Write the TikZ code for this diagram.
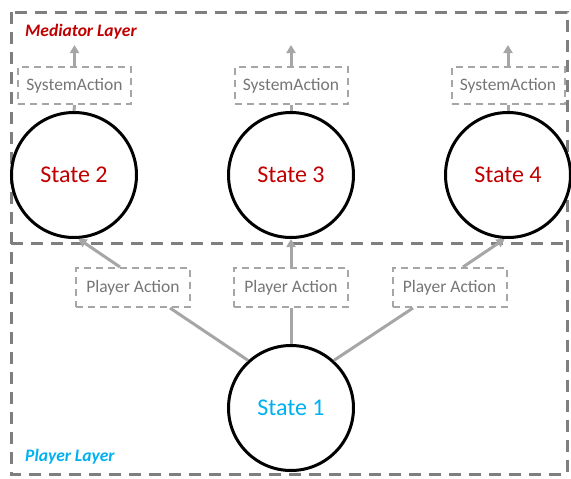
\documentclass[tikz,border=0pt]{standalone}
\usepackage{fontspec}
\setmainfont{Carlito}
\usetikzlibrary{arrows.meta,calc}
\definecolor{layergray}{HTML}{7F7F7F}
\definecolor{boxgray}{HTML}{A6A6A6}
\definecolor{textgray}{HTML}{767676}
\definecolor{medred}{HTML}{C00000}
\definecolor{playblue}{HTML}{00B0F0}
\begin{document}
\begin{tikzpicture}[x=1pt,y=-1pt,
  layerbox/.style={draw=layergray,line width=3pt,dash pattern=on 12pt off 8pt},
  layerlabel/.style={anchor=west,font=\fontsize{17.5}{20}\selectfont\bfseries\itshape,inner sep=0pt},
  statenode/.style={circle,draw=black,line width=3pt,fill=white,minimum size=125pt,inner sep=0pt,
    font=\fontsize{24}{28}\selectfont},
  actionbox/.style={draw=boxgray,line width=2pt,dash pattern=on 7pt off 5pt,fill=white,
    text=textgray,font=\fontsize{17.5}{20}\selectfont,inner sep=0pt},
  sysbox/.style={actionbox,minimum width=113pt,minimum height=37pt},
  plbox/.style={actionbox,minimum width=114pt,minimum height=39pt},
  link/.style={draw=boxgray,line width=3pt},
  arrowlink/.style={link,-{Triangle[length=8pt,width=9pt]}}
]
\useasboundingbox (0,0) rectangle (571,479);

% layer frame and the divider between the two layers
\draw[layerbox] (11,12) rectangle (567,474);
\draw[layerbox] (11,243) -- (567,243);
\node[layerlabel,text=medred] (medlabel) at (25,32) {Mediator Layer};
\node[layerlabel,text=playblue] (playlabel) at (25,457) {Player Layer};

% states
\node[statenode,text=medred] (s2) at (74,175) {State 2};
\node[statenode,text=medred] (s3) at (291,175) {State 3};
\node[statenode,text=medred] (s4) at (508,175) {State 4};
\node[statenode,text=playblue] (s1) at (291,408) {State 1};

% system actions
\node[sysbox] (sa2) at (74.5,85.5) {SystemAction};
\node[sysbox] (sa3) at (291,85.5) {SystemAction};
\node[sysbox] (sa4) at (508,85.5) {SystemAction};
\coordinate (out2) at (74.5,45);
\coordinate (out3) at (291,45);
\coordinate (out4) at (508,45);

% player actions
\node[plbox] (pa1) at (133,287.5) {Player Action};
\node[plbox] (pa2) at (291,287.5) {Player Action};
\node[plbox] (pa3) at (449.5,287.5) {Player Action};

% mediator outputs
\foreach \n in {2,3,4}{
  \draw[link] (s\n.north) -- (sa\n.south);
  \draw[arrowlink] (sa\n.north) -- (out\n);
}

% player moves
\draw[link] (s1.132) -- ($(pa1.south)+(37,0)$);
\draw[arrowlink] ($(pa1.north)+(-13,0)$) -- (s2.-86);
\draw[link] (s1.north) -- (pa2.south);
\draw[arrowlink] (pa2.north) -- (s3.south);
\draw[link] (s1.48) -- ($(pa3.south)+(-36.5,0)$);
\draw[arrowlink] ($(pa3.north)+(13.5,0)$) -- (s4.-93);
\end{tikzpicture}
\end{document}
